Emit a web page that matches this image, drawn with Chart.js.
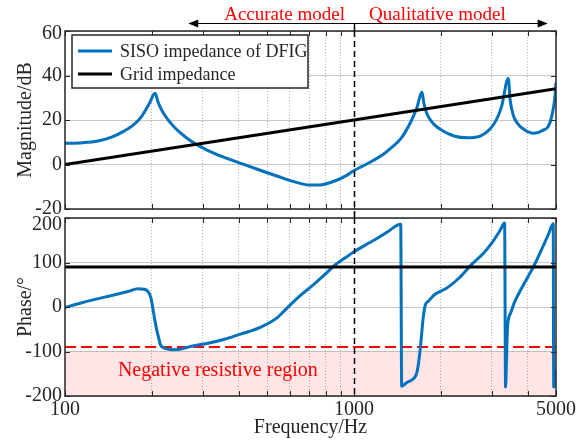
<!DOCTYPE html>
<html>
<head>
<meta charset="utf-8">
<script src="https://cdn.jsdelivr.net/npm/chart.js@4/dist/chart.umd.min.js"></script>
<style>
    html, body { margin: 0; padding: 0; background: #fff; }
    #wrap { position: relative; width: 583px; height: 447px; font-family: "Liberation Serif", serif; }
    .layer { position: absolute; left: 0; top: 0; width: 583px; height: 447px; }
    #probe { position: absolute; left: -999px; top: 0; font: 20px "Liberation Serif"; }
</style>
</head>
<body>
<div id="wrap">
    <div class="layer"><canvas id="magChart"></canvas></div>
    <div class="layer"><canvas id="phaseChart"></canvas></div>
</div>
<span id="probe">Frequency 0123456789</span>
<script>
// frequency axis
const xTicks = [100, 200, 300, 400, 500, 600, 700, 800, 900, 1000, 2000, 3000, 4000, 5000];
const xTickLabels = [100, 1000, 5000];
const magTicks = [-20, 0, 20, 40, 60];
const phaseTicks = [-200, -100, 0, 100, 200];

// SISO impedance of DFIG - magnitude (dB)
const freqMag = [100, 115, 130, 145, 160, 175, 185, 195, 205, 210, 216, 226, 240, 263, 280, 310, 354, 410, 476, 550, 620,
    700, 760, 862, 940, 1000, 1080, 1165, 1260, 1350, 1450, 1570, 1650, 1718, 1745, 1780, 1830, 1900, 2005, 2230, 2470, 2757,
    3060, 3240, 3418, 3470, 3560, 3690, 3890, 4174, 4474, 4770, 4960, 5000];
const sisoMagDb = [9.5, 9.8, 10.6, 12.3, 15, 18.5, 22, 27, 32, 28, 24.5, 20.5, 16.5, 12, 9.6, 6.5, 3.3, 0.3, -2.7, -5.5, -7.7,
    -9.2, -9.2, -7.3, -5, -2.7, -0.5, 1.8, 4.5, 7.7, 11.5, 19, 25.5, 32.6, 27.5, 23.5, 20.3, 17.8, 15.5, 12.7, 12, 13,
    18.5, 26, 38.6, 29, 22, 18.3, 15.6, 14, 15.2, 19, 30.6, 36.8];

// SISO impedance of DFIG - phase (deg)
const freqPhase = [100, 112, 125, 145, 165, 179, 188, 193, 198, 201, 204, 207, 211, 214, 222, 237, 255, 270, 310, 354,
    410, 476, 540, 585, 650, 721, 790, 862, 930, 1000, 1100, 1200, 1300, 1451, 1462, 1520, 1613, 1654, 1697, 1735,
    1766, 1808, 1893, 2100, 2300, 2540, 2800, 3000, 3200, 3320, 3345, 3370, 3395, 3430, 3480, 3600, 3800, 4000, 4220, 4500,
    4700, 4890, 4910, 4950, 5000];
const sisoPhaseDeg = [-1, 8, 16, 26, 35, 41, 40, 36, 22, 0, -25, -47, -70, -85, -93, -96, -94, -89, -82, -73,
    -60, -45, -25, -3, 25, 49, 72, 95, 110, 124, 140, 154, 168, 186, -178, -170, -160, -145, -92, -25,
    5, 13, 27, 43, 64, 94, 120, 144, 172, 189, -180, -120, -50, -25, -14, 12, 42, 68, 96, 135,
    162, 187, -180, -170, -141];

// grid impedance
const gridFreq = [100, 1000, 5000];
const gridMagDb = [0, 20, 34];
const gridPhaseDeg = [90, 90];
const phaseSpan = [100, 5000];

// negative resistive region
const negResLine = [-90, -90];
const negResTop = [-100, -100];

// annotation spans (Hz)
const splitHz = 1000;
const arrowFromHz = 267;
const arrowToHz = 4680;

const FONT = '"Liberation Serif", "Times New Roman", "DejaVu Serif", serif';
const INK = '#262626';
const BLUE = '#0072BD';

const pts = (xs, ys) => xs.map((x, i) => ({ x: x, y: ys[i] }));

function xAxis(showLabels) {
    return {
        type: 'logarithmic',
        min: 100,
        max: 5000,
        afterBuildTicks: s => { s.ticks = xTicks.map(v => ({ value: v })); },
        afterFit: s => { s.height = showLabels ? 51 : 0; },
        border: { display: false, dash: [1, 2] },
        grid: {
            drawTicks: false,
            lineWidth: 1,
            color: c => (c.tick && xTickLabels.includes(c.tick.value)) ? 'rgba(0,0,0,0)' : '#b4b4b4'
        },
        ticks: {
            display: showLabels,
            autoSkip: false,
            maxRotation: 0,
            padding: 2,
            color: INK,
            font: { family: FONT, size: 20 },
            callback: v => xTickLabels.includes(v) ? String(v) : ''
        },
        title: {
            display: showLabels,
            text: 'Frequency/Hz',
            color: INK,
            font: { family: FONT, size: 20 },
            padding: { top: 0, bottom: 7 }
        }
    };
}

// the top tick label of a panel is drawn by hand, a little lower (as in the reference)
function yAxis(min, max, ticks, title) {
    return {
        min: min,
        max: max,
        afterBuildTicks: s => { s.ticks = ticks.map(v => ({ value: v })); },
        afterFit: s => { s.width = 65; },
        border: { display: false },
        grid: { drawTicks: false, color: '#c8c8c8', lineWidth: 1 },
        ticks: {
            padding: 3,
            color: INK,
            font: { family: FONT, size: 20 },
            callback: v => v === max ? '' : String(v)
        },
        title: {
            display: true,
            text: title,
            color: INK,
            font: { family: FONT, size: 20 },
            padding: { top: 14, bottom: 0 }
        }
    };
}

// box round the axes, inward ticks and the dashed 1000 Hz line
function frame(chart, lineTop, lineBottom, topLabelShift) {
    const { ctx, chartArea: a, scales: { x, y } } = chart;
    ctx.save();
    ctx.strokeStyle = INK;
    ctx.lineWidth = 1;
    ctx.beginPath();
    xTicks.forEach(v => {
        const px = Math.round(x.getPixelForValue(v)) + 0.5;
        ctx.moveTo(px, a.bottom); ctx.lineTo(px, a.bottom - 5);
        ctx.moveTo(px, a.top); ctx.lineTo(px, a.top + 5);
    });
    y.ticks.forEach(t => {
        const py = Math.round(y.getPixelForValue(t.value)) + 0.5;
        ctx.moveTo(a.left, py); ctx.lineTo(a.left + 5, py);
        ctx.moveTo(a.right, py); ctx.lineTo(a.right - 5, py);
    });
    ctx.stroke();
    ctx.lineWidth = 1.5;
    ctx.strokeRect(a.left, a.top, a.right - a.left, a.bottom - a.top);

    // top tick label
    ctx.fillStyle = INK;
    ctx.font = '20px ' + FONT;
    ctx.textAlign = 'right';
    ctx.textBaseline = 'middle';
    ctx.fillText(String(y.max), a.left - 3, y.getPixelForValue(y.max) + topLabelShift);

    const sx = Math.round(x.getPixelForValue(splitHz)) + 0.5;
    ctx.strokeStyle = '#000';
    ctx.setLineDash([6, 4]);
    ctx.beginPath();
    ctx.moveTo(sx, Math.max(lineTop, a.top));
    ctx.lineTo(sx, lineBottom);
    ctx.stroke();
    ctx.setLineDash([]);
    if (lineTop < a.top) {
        ctx.beginPath();
        ctx.moveTo(sx, lineTop);
        ctx.lineTo(sx, a.top);
        ctx.stroke();
    }
    ctx.restore();
}

const magDecor = {
    id: 'magDecor',
    afterDatasetsDraw(chart) {
        const { ctx, chartArea: a, scales: { x } } = chart;
        frame(chart, a.top - 7, a.bottom + 5, 3);

        ctx.save();
        // legend
        const lx = a.left + 7, ly = a.top + 4, lw = 236, lh = 53;
        ctx.fillStyle = '#fff';
        ctx.fillRect(lx, ly, lw, lh);
        ctx.strokeStyle = INK;
        ctx.lineWidth = 1.5;
        ctx.strokeRect(lx, ly, lw, lh);
        ctx.font = '18px ' + FONT;
        ctx.textBaseline = 'middle';
        ctx.textAlign = 'left';
        chart.data.datasets.forEach((d, i) => {
            const yy = ly + 16 + i * 23;
            ctx.strokeStyle = d.borderColor;
            ctx.lineWidth = 3;
            ctx.beginPath();
            ctx.moveTo(lx + 6, yy);
            ctx.lineTo(lx + 40, yy);
            ctx.stroke();
            ctx.fillStyle = INK;
            ctx.fillText(d.label, lx + 48, yy + 1);
        });

        // model range arrows
        const ay = a.top - 7.5;
        const x0 = x.getPixelForValue(arrowFromHz);
        const x1 = x.getPixelForValue(arrowToHz);
        ctx.strokeStyle = '#000';
        ctx.fillStyle = '#000';
        ctx.lineWidth = 1;
        ctx.beginPath();
        ctx.moveTo(x0 + 4, ay); ctx.lineTo(x1 - 4, ay);
        ctx.stroke();
        ctx.beginPath();
        ctx.moveTo(x0, ay); ctx.lineTo(x0 + 10, ay - 4); ctx.lineTo(x0 + 10, ay + 4); ctx.closePath();
        ctx.moveTo(x1, ay); ctx.lineTo(x1 - 10, ay - 4); ctx.lineTo(x1 - 10, ay + 4); ctx.closePath();
        ctx.fill();

        const sx = x.getPixelForValue(splitHz);
        ctx.fillStyle = '#ff0000';
        ctx.font = '19px ' + FONT;
        ctx.textBaseline = 'alphabetic';
        ctx.textAlign = 'right';
        ctx.fillText('Accurate model', sx - 9, a.top - 11);
        ctx.textAlign = 'left';
        ctx.fillText('Qualitative model', sx + 15, a.top - 11);
        ctx.restore();
    }
};

const phaseDecor = {
    id: 'phaseDecor',
    afterDatasetsDraw(chart) {
        const { ctx, chartArea: a, scales: { x, y } } = chart;
        ctx.save();
        ctx.fillStyle = '#ff0000';
        ctx.font = '20px ' + FONT;
        ctx.textAlign = 'center';
        ctx.textBaseline = 'alphabetic';
        ctx.fillText('Negative resistive region', x.getPixelForValue(338), y.getPixelForValue(-155));
        ctx.restore();
        frame(chart, a.top - 5, a.bottom, 7);
    }
};

const lineBase = { pointRadius: 0, fill: false, borderCapStyle: 'butt', borderJoinStyle: 'round' };

function draw() {
    new Chart(document.getElementById('magChart'), {
        type: 'line',
        data: {
            datasets: [
                Object.assign({}, lineBase, {
                    label: 'SISO impedance of DFIG',
                    data: pts(freqMag, sisoMagDb),
                    borderColor: BLUE,
                    borderWidth: 3,
                    cubicInterpolationMode: 'monotone',
                    order: 1
                }),
                Object.assign({}, lineBase, {
                    label: 'Grid impedance',
                    data: pts(gridFreq, gridMagDb),
                    borderColor: '#000',
                    borderWidth: 3,
                    order: 0
                })
            ]
        },
        options: {
            responsive: true,
            maintainAspectRatio: false,
            animation: false,
            layout: { padding: { top: 31, right: 27, bottom: 238, left: 0 } },
            scales: {
                x: xAxis(false),
                y: yAxis(-20, 60, magTicks, 'Magnitude/dB')
            },
            plugins: { legend: { display: false }, tooltip: { enabled: false } }
        },
        plugins: [magDecor]
    });

    new Chart(document.getElementById('phaseChart'), {
        type: 'line',
        data: {
            datasets: [
                Object.assign({}, lineBase, {
                    label: 'SISO impedance of DFIG',
                    data: pts(freqPhase, sisoPhaseDeg),
                    borderColor: BLUE,
                    borderWidth: 3,
                    cubicInterpolationMode: 'monotone',
                    order: 1
                }),
                Object.assign({}, lineBase, {
                    label: 'Grid impedance',
                    data: pts(phaseSpan, gridPhaseDeg),
                    borderColor: '#000',
                    borderWidth: 3,
                    order: 0
                }),
                Object.assign({}, lineBase, {
                    label: '',
                    data: pts(phaseSpan, negResLine),
                    borderColor: '#ff0000',
                    borderWidth: 2,
                    borderDash: [11, 5],
                    order: 2
                }),
                Object.assign({}, lineBase, {
                    label: '',
                    data: pts(phaseSpan, negResTop),
                    borderWidth: 0,
                    borderColor: 'rgba(0,0,0,0)',
                    backgroundColor: 'rgba(255,0,0,0.1)',
                    fill: 'start',
                    order: 3
                })
            ]
        },
        options: {
            responsive: true,
            maintainAspectRatio: false,
            animation: false,
            layout: { padding: { top: 218, right: 27, bottom: 0, left: 0 } },
            scales: {
                x: xAxis(true),
                y: yAxis(-200, 200, phaseTicks, 'Phase/°')
            },
            plugins: { legend: { display: false }, tooltip: { enabled: false } }
        },
        plugins: [phaseDecor]
    });
}

// make sure the serif face is ready before the canvas text is drawn
document.fonts.load('20px "Liberation Serif"').then(draw, draw);
</script>
</body>
</html>
